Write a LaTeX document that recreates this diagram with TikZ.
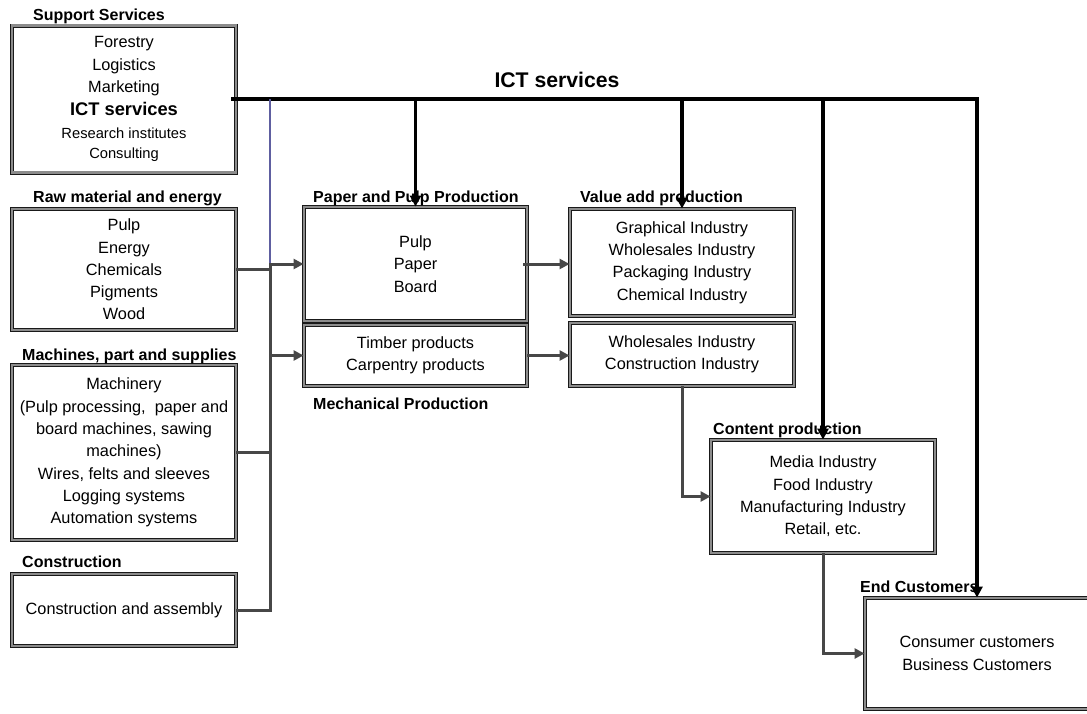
\documentclass[tikz,border=0pt]{standalone}
\usepackage{fontspec}
\setmainfont{Liberation Sans}
\usetikzlibrary{arrows.meta}
\definecolor{feedgray}{HTML}{474747}
\definecolor{rimgray}{HTML}{8C8C8C}
\definecolor{linkblue}{HTML}{5E5EA0}
\begin{document}
\begin{tikzpicture}[x=1pt,y=-1pt,
  panel/.style={draw=black!90, line width=0.9pt, double=rimgray,
    double distance=2.2pt, align=center, inner sep=0pt,
    font=\fontsize{16.3}{22.3}\selectfont},
  heading/.style={anchor=base west, inner sep=0pt,
    font=\bfseries\fontsize{16}{17}\selectfont},
  feed/.style={draw=feedgray, line width=3pt},
  feedarrow/.style={feed, -{Triangle[length=10pt,width=10pt]}},
  ictline/.style={draw=black, line width=3.4pt},
  ictarrow/.style={ictline, -{Triangle[length=11pt,width=11pt]}},
  bluelink/.style={draw=linkblue, line width=1.8pt}]
\useasboundingbox (0,0) rectangle (1087,713);

% supplier panels on the left
\node[panel, minimum width=224pt, minimum height=147pt] (sup) at (124,99)
  {Forestry\\Logistics\\Marketing\\[1pt]
   {\bfseries\fontsize{18.3}{20}\selectfont ICT services}\\
   {\fontsize{14.7}{18}\selectfont Research institutes}\\[-2pt]
   {\fontsize{14.7}{18}\selectfont Consulting}};
\node[heading] at (33,20) {Support Services};

\node[panel, minimum width=224pt, minimum height=121pt] (raw) at (124,269.5)
  {Pulp\\Energy\\Chemicals\\Pigments\\Wood};
\node[heading] at (33,202) {Raw material and energy};

\node[panel, minimum width=224pt, minimum height=175pt] (mach) at (124,452.5)
  {Machinery\\(Pulp processing,\ \ paper and\\board machines, sawing\\machines)\\
   Wires, felts and sleeves\\Logging systems\\Automation systems};
\node[heading] at (22,360) {Machines, part and supplies};

\node[panel, minimum width=224pt, minimum height=72pt] (cons) at (124,610)
  {Construction and assembly};
\node[heading] at (22,567) {Construction};

% production panels
\node[panel, minimum width=223pt, minimum height=114pt] (paper) at (415.5,264)
  {Pulp\\Paper\\Board};
\node[heading] at (313,202) {Paper and Pulp Production};

\node[panel, minimum width=223pt, minimum height=61pt] (timber) at (415.5,355.5)
  {Timber products\\Carpentry products};
\node[heading] at (313,409) {Mechanical Production};

\node[panel, minimum width=224pt, minimum height=107pt] (value) at (682,262.5)
  {Graphical Industry\\Wholesales Industry\\Packaging Industry\\Chemical Industry};
\node[heading] at (580,202) {Value add production};

\node[panel, minimum width=224pt, minimum height=63pt] (trade) at (682,354.5)
  {Wholesales Industry\\Construction Industry};

\node[panel, minimum width=224pt, minimum height=113pt] (content) at (823,496.5)
  {Media Industry\\Food Industry\\Manufacturing Industry\\Retail, etc.};
\node[heading] at (713,434) {Content production};

\node[panel, minimum width=224pt, minimum height=111pt] (end) at (977,653.5)
  {Consumer customers\\Business Customers};
\node[heading] at (860,592) {End Customers};

% ICT services bus
\node[anchor=base, inner sep=0pt, font=\bfseries\fontsize{21.2}{23}\selectfont]
  (icthead) at (557,87) {ICT services};
\coordinate (trunk) at (270,0);
\draw[ictarrow] ([xshift=-5pt]sup.east) -- (end.north |- sup.east) -- (end.north);
\draw[ictarrow] (paper.north |- sup.east) -- (paper.north);
\draw[ictarrow] (value.north |- sup.east) -- (value.north);
\draw[ictarrow] (content.north |- sup.east) -- (content.north);

% supplier feeds
\draw[bluelink] (trunk |- sup.east) -- (trunk |- paper.west);
\draw[feed] (raw.east) -- (trunk |- raw.east);
\draw[feed] (mach.east) -- (trunk |- mach.east);
\draw[feedarrow] (cons.east) -- (trunk |- cons.east) -- (trunk |- paper.west) -- (paper.west);
\draw[feedarrow] (trunk |- timber.west) -- (timber.west);

% value chain flow
\draw[feedarrow] ([xshift=-4pt]paper.east) -- (value.west |- paper.east);
\draw[feedarrow] (timber.east) -- (trade.west |- timber.east);
\draw[feedarrow] (trade.south) |- (content.west);
\draw[feedarrow] (content.south) |- (end.west);
\end{tikzpicture}
\end{document}
